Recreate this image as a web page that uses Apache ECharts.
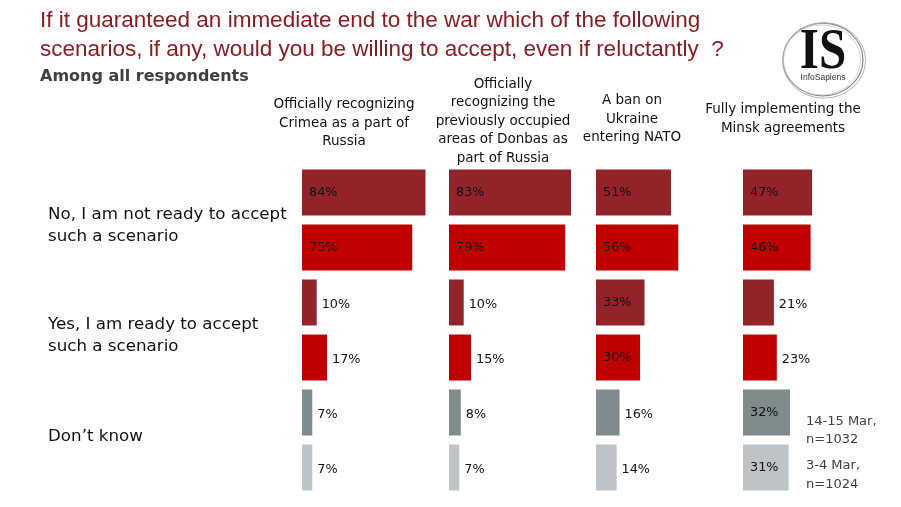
<!DOCTYPE html>
<html>
<head>
<meta charset="utf-8">
<script src="https://cdn.jsdelivr.net/npm/echarts@6/dist/echarts.min.js"></script>
<style>html,body{margin:0;padding:0;background:#fff}#c{width:901px;height:507px}</style>
</head>
<body>
<div id="c"></div>
<script>
// ---- data ----
const titleText = 'If it guaranteed an immediate end to the war which of the following\nscenarios, if any, would you be willing to accept, even if reluctantly  ?';
const subtitleText = 'Among all respondents';
const scenarios = [
  'Officially recognizing\nCrimea as a part of\nRussia',
  'Officially\nrecognizing the\npreviously occupied\nareas of Donbas as\npart of Russia',
  'A ban on\nUkraine\nentering NATO',
  'Fully implementing the\nMinsk agreements'
];
const rowLabels = ['No, I am not ready to accept\nsuch a scenario', 'Yes, I am ready to accept\nsuch a scenario', 'Don\u2019t know'];
const waves = ['14-15 Mar,\nn=1032', '3-4 Mar,\nn=1024'];
const barKeys = ['No | 14-15 Mar', 'No | 3-4 Mar', 'Yes | 14-15 Mar', 'Yes | 3-4 Mar', 'DK | 14-15 Mar', 'DK | 3-4 Mar'];
const crimea = [84, 75, 10, 17, 7, 7];
const donbas = [83, 79, 10, 15, 8, 7];
const nato   = [51, 56, 33, 30, 16, 14];
const minsk  = [47, 46, 21, 23, 32, 31];
const panelValues = [crimea, donbas, nato, minsk];

// ---- style ----
const barColors = ['#922429', '#C00000', '#922429', '#C00000', '#7F8B8C', '#BEC3C7'];
const FONT = 'DejaVu Sans';
const panelLeft = 302, panelStep = 147, panelWidth = 147, gridTop = 165, gridHeight = 330;
const headerCenters = [344, 503, 632, 783];
const headerMid = [123, 121, 119, 119];

const grids = [], xAxes = [], yAxes = [], series = [];
panelValues.forEach((vals, i) => {
  grids.push({left: panelLeft + panelStep * i, top: gridTop, width: panelWidth, height: gridHeight, containLabel: false});
  xAxes.push({type: 'value', gridIndex: i, min: 0, max: 100, show: false});
  yAxes.push({type: 'category', gridIndex: i, data: barKeys, inverse: true, show: false});
  series.push({
    type: 'bar', xAxisIndex: i, yAxisIndex: i, barWidth: 46,
    data: vals.map((v, k) => {
      const inside = v >= 30;
      return {
        value: v,
        itemStyle: {color: barColors[k]},
        label: inside
          ? {show: true, position: 'insideLeft', distance: 7, offset: [0, 0]}
          : {show: true, position: 'right', distance: 5, offset: [0, 2]}
      };
    }),
    label: {formatter: '{c}%', fontFamily: FONT, fontSize: 12.8, color: '#111'},
    silent: true, animation: false
  });
});

const graphic = [
  {type: 'text', left: 40, top: 69, style: {text: subtitleText, font: 'bold 16px "DejaVu Sans"', fill: '#404040'}}
];
scenarios.forEach((s, i) => {
  graphic.push({type: 'text', x: headerCenters[i], y: headerMid[i],
    style: {text: s, font: '13.5px "DejaVu Sans"', fill: '#111', textAlign: 'center', textVerticalAlign: 'middle', lineHeight: 18.5}});
});
const rowMid = [226, 335.5, 437];
rowLabels.forEach((r, i) => {
  graphic.push({type: 'text', x: 48, y: rowMid[i],
    style: {text: r, font: '16.7px "DejaVu Sans"', fill: '#111', textVerticalAlign: 'middle', lineHeight: 22}});
});
const waveMid = [430.5, 475];
waves.forEach((w, i) => {
  graphic.push({type: 'text', x: 806, y: waveMid[i],
    style: {text: w, font: '13px "DejaVu Sans"', fill: '#404040', textVerticalAlign: 'middle', lineHeight: 18.5}});
});
// logo
graphic.push({
  type: 'group', x: 823, y: 59.5,
  children: [
    {type: 'circle', shape: {cx: 0, cy: 0, r: 40}, scaleY: 0.91, style: {fill: '#fff', stroke: '#8a8a8a', lineWidth: 1.2}},
    {type: 'circle', shape: {cx: 1, cy: 1, r: 41.5}, scaleY: 0.91, style: {fill: null, stroke: '#b0b0b0', lineWidth: 1}},
    {type: 'circle', shape: {cx: -1, cy: 0.5, r: 38.5}, scaleY: 0.91, style: {fill: null, stroke: '#c8c8c8', lineWidth: 0.8}},
    {type: 'text', x: 0, y: -6, scaleX: 0.86, style: {text: 'IS', font: 'bold 57px "Liberation Serif"', fill: '#111', textAlign: 'center', textVerticalAlign: 'middle'}},
    {type: 'text', x: 0, y: 18, style: {text: 'InfoSapiens', font: '8.5px "Liberation Sans"', fill: '#333', textAlign: 'center', textVerticalAlign: 'middle'}}
  ]
});

const chart = echarts.init(document.getElementById('c'), null, {renderer: 'canvas'});
chart.setOption({
  animation: false,
  backgroundColor: '#fff',
  title: {text: titleText, left: 35, top: 1,
    textStyle: {fontFamily: 'Liberation Sans', fontSize: 22.5, fontWeight: 'normal', color: '#8E1B22', lineHeight: 29}},
  grid: grids, xAxis: xAxes, yAxis: yAxes, series: series, graphic: graphic
});
</script>
</body>
</html>
